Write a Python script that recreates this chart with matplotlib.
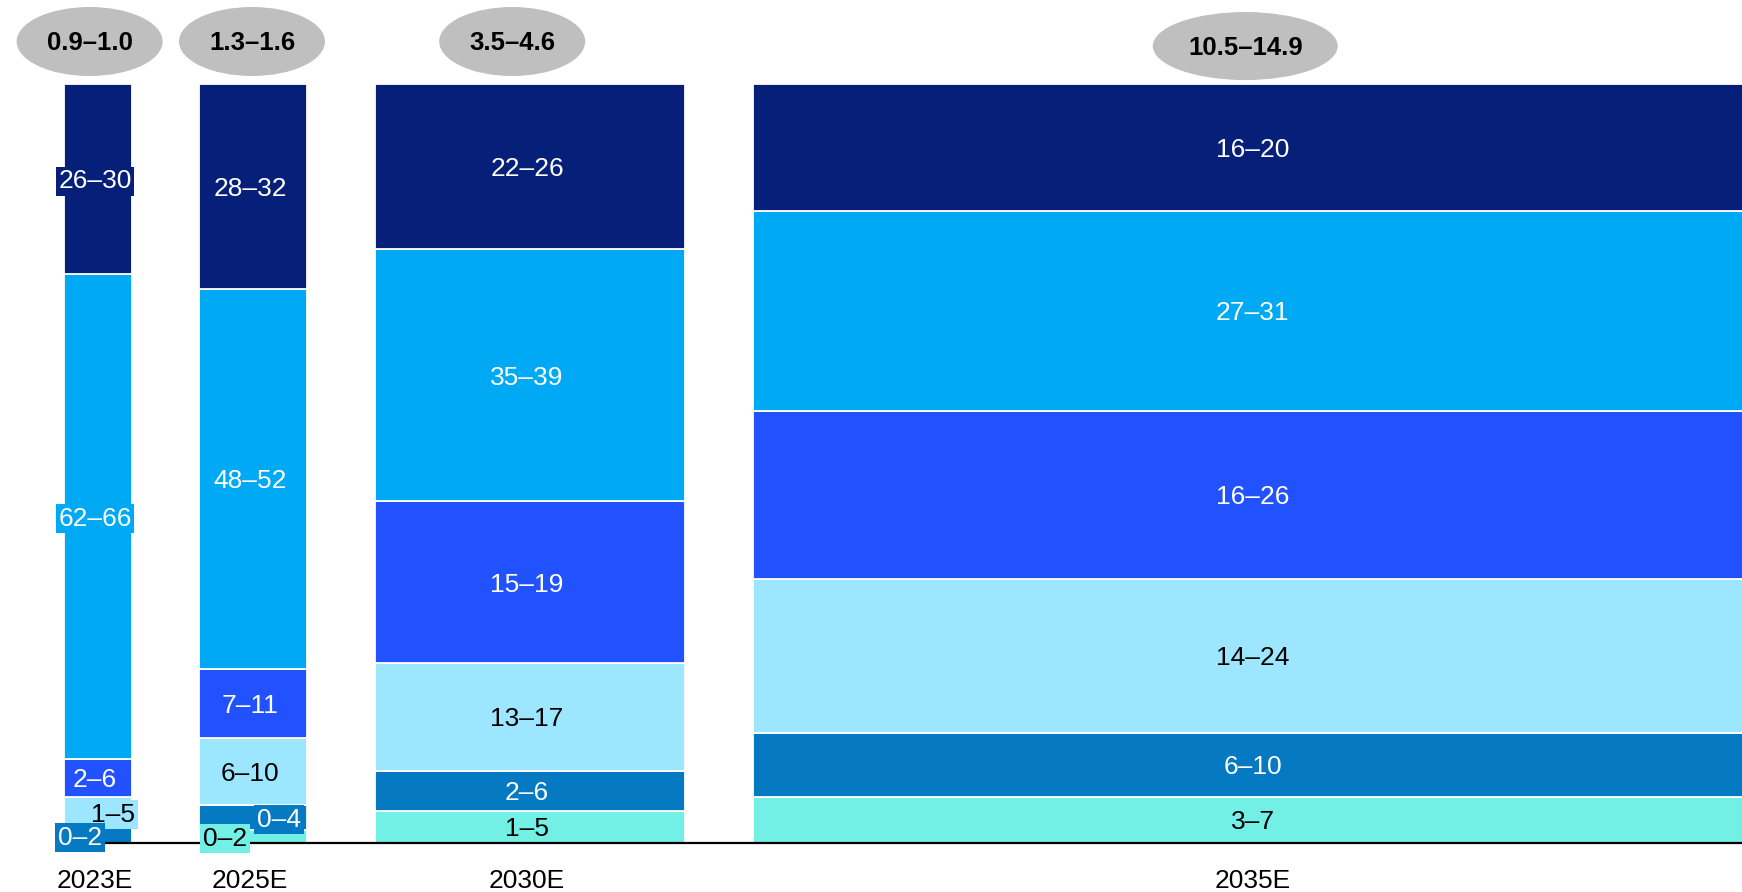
import matplotlib
matplotlib.use('Agg')
import matplotlib.pyplot as plt
from matplotlib.patches import Ellipse

plt.rcParams['font.family'] = ['Liberation Sans', 'DejaVu Sans']

# ---------------- data ----------------
years = ['2023E', '2025E', '2030E', '2035E']
market_size = ['0.9–1.0', '1.3–1.6', '3.5–4.6', '10.5–14.9']
bar_widths = [1.0, 1.6, 4.6, 14.9]          # bar width ~ upper bound of market size

# segment shares (%), bottom to top
teal_vals = [0.0, 1.7, 4.2, 6.1]
mid_vals = [2.0, 3.3, 5.3, 8.4]
light_vals = [4.1, 8.8, 14.2, 20.3]
royal_vals = [5.0, 9.1, 21.3, 22.1]
sky_vals = [63.9, 50.1, 33.2, 26.4]
navy_vals = [25.0, 27.0, 21.8, 16.7]

teal_labels = ['', '0–2', '1–5', '3–7']
mid_labels = ['0–2', '0–4', '2–6', '6–10']
light_labels = ['1–5', '6–10', '13–17', '14–24']
royal_labels = ['2–6', '7–11', '15–19', '16–26']
sky_labels = ['62–66', '48–52', '35–39', '27–31']
navy_labels = ['26–30', '28–32', '22–26', '16–20']

# ---------------- style / layout ----------------
series = [
    (teal_vals, teal_labels, '#73F0E6', 'black'),
    (mid_vals, mid_labels, '#0679C3', 'white'),
    (light_vals, light_labels, '#9DE6FF', 'black'),
    (royal_vals, royal_labels, '#2251FF', 'white'),
    (sky_vals, sky_labels, '#00A9F4', 'white'),
    (navy_vals, navy_labels, '#061F79', 'white'),
]
gap = 1.0
text_dx = -0.04
# manual label x-offsets (bar index, series index) -> dx
label_dx = {(0, 2): 0.27, (0, 1): -0.22, (1, 1): 0.425, (1, 0): -0.375}
boxed_bars = {0, 1}
ellipse_dx = [-0.12, -0.015, -0.26, -0.15]
ellipse_w = [2.163, 2.163, 2.163, 2.74]
ellipse_h = [9.09, 9.09, 9.09, 8.96]
ellipse_y = [105.6, 105.6, 105.6, 105.0]

W, H = 1742, 892
fig = plt.figure(figsize=(W / 100, H / 100), dpi=100)
ax = fig.add_axes([0, 0, 1, 1])
px_x = 67.5
px_y = 7.59
x0_px = 64
base_px = 843
ax.set_xlim(-x0_px / px_x, (W - x0_px) / px_x)
ax.set_ylim(-(H - base_px) / px_y, base_px / px_y)
ax.axis('off')

lefts = []
x = 0.0
for w in bar_widths:
    lefts.append(x)
    x += w + gap

centers = [l + w / 2 for l, w in zip(lefts, bar_widths)]

bottoms = [0.0] * len(years)
for si, (vals, labels, color, tcolor) in enumerate(series):
    ax.bar(lefts, vals, width=bar_widths, bottom=bottoms, align='edge',
           color=color, edgecolor='white', linewidth=1.3, zorder=2)
    for bi, (v, lab) in enumerate(zip(vals, labels)):
        if v <= 0 or not lab:
            continue
        cx = centers[bi] + text_dx + label_dx.get((bi, si), 0.0)
        cy = bottoms[bi] + v / 2 - 0.3
        kw = {}
        if bi in boxed_bars:
            kw['bbox'] = dict(boxstyle='square,pad=0.1', facecolor=color,
                              edgecolor='none')
        ax.text(cx, cy, lab, ha='center', va='center', fontsize=19,
                color=tcolor, zorder=10 - si, **kw)
    bottoms = [b + v for b, v in zip(bottoms, vals)]

# baseline
ax.plot([0, x], [0, 0], color='black', linewidth=1.6, zorder=4,
        solid_capstyle='butt')

# year labels
for c, yr in zip(centers, years):
    ax.text(c + text_dx, -5.05, yr, ha='center', va='center', fontsize=19,
            color='black')

# market size ellipses
for i, (c, ms) in enumerate(zip(centers, market_size)):
    ex = c + ellipse_dx[i]
    ax.add_patch(Ellipse((ex, ellipse_y[i]), ellipse_w[i], ellipse_h[i],
                         facecolor='#BFBFBF', edgecolor='none', zorder=3))
    ax.text(ex, ellipse_y[i] - 0.2, ms, ha='center', va='center', fontsize=18.5,
            fontweight='bold', color='black', zorder=4)

fig.savefig('out.png', dpi=100)
